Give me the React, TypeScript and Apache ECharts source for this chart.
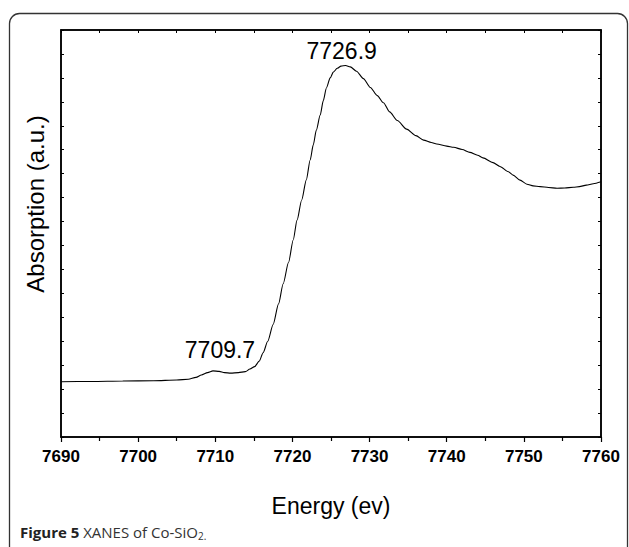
import React, { useEffect, useRef } from "react";
import * as echarts from "echarts";

const energy = [
  7690, 7694, 7698, 7702, 7705, 7706.5, 7707.5, 7708.2, 7709, 7709.7, 7710.5, 7711.2, 7712, 7713,
  7713.9, 7714.5, 7715.1, 7715.7, 7716.2, 7716.8, 7717.5, 7718.2, 7718.8, 7719.5, 7720.1, 7720.6,
  7721.2, 7721.8, 7722.3, 7722.7, 7723.1, 7723.6, 7724.0, 7724.4, 7724.9, 7725.3, 7725.8, 7726.3,
  7726.9, 7727.5, 7728.3, 7729.2, 7730.1, 7731.0, 7731.8, 7732.6, 7733.6, 7734.8, 7736.0, 7737.0,
  7738.0, 7738.7, 7740.0, 7740.9, 7742.0, 7743.0, 7744.0, 7744.7, 7746.0, 7746.9, 7748.0, 7748.6,
  7749.5, 7750.4, 7751.2, 7752.1, 7753.2, 7754.3, 7755.3, 7756.4, 7757.2, 7758.1, 7759.0, 7760,
];
const absorption = [
  0.231, 0.232, 0.234, 0.235, 0.238, 0.241, 0.249, 0.259, 0.269, 0.276, 0.274, 0.269, 0.267, 0.269,
  0.273, 0.284, 0.294, 0.317, 0.352, 0.4, 0.47, 0.556, 0.64, 0.73, 0.823, 0.906,
  0.99, 1.074, 1.157, 1.22, 1.282, 1.345, 1.405, 1.458, 1.5, 1.524, 1.54, 1.549,
  1.552, 1.546, 1.528, 1.497, 1.46, 1.426, 1.396, 1.358, 1.322, 1.286, 1.259, 1.24,
  1.23, 1.224, 1.215, 1.21, 1.201, 1.189, 1.177, 1.166, 1.146, 1.13, 1.108, 1.094,
  1.073, 1.056, 1.049, 1.046, 1.042, 1.039, 1.04, 1.043, 1.046, 1.052, 1.058, 1.066,
];
const peaks = [
  { name: "7726.9", coord: [7726.9, 1.552], offset: [-4, -14] },
  { name: "7709.7", coord: [7709.7, 0.276], offset: [7, -21] },
];

const FONT = "'Liberation Sans', Arial, sans-serif";

export default function App() {
  const ref = useRef<HTMLDivElement>(null);
  useEffect(() => {
    if (!ref.current) return;
    const chart = echarts.init(ref.current, null, { renderer: "svg" });
    const axisLine = { show: true, onZero: false, lineStyle: { color: "#000", width: 1.5 } };
    chart.setOption({
      animation: false,
      backgroundColor: "#fff",
      grid: {
        left: 61,
        right: 28,
        top: 30,
        bottom: 110,
        show: true,
        borderColor: "#000",
        borderWidth: 1.5,
        backgroundColor: "transparent",
      },
      xAxis: [
        {
          type: "value",
          min: 7690,
          max: 7760,
          interval: 10,
          axisLine,
          axisTick: { show: true, inside: false, length: 5, lineStyle: { color: "#000", width: 1.2 } },
          minorTick: { show: true, splitNumber: 2, length: 4, lineStyle: { color: "#000", width: 1.2 } },
          splitLine: { show: false },
          axisLabel: {
            color: "#000",
            fontFamily: FONT,
            fontWeight: "bold",
            fontSize: 17,
            margin: 11,
            formatter: (v: number) => String(v),
          },
          name: "Energy (ev)",
          nameLocation: "middle",
          nameGap: 57,
          nameTextStyle: { color: "#000", fontFamily: FONT, fontSize: 23 },
        },
        {
          type: "value",
          position: "top",
          min: 7690,
          max: 7760,
          interval: 5,
          axisLine,
          axisTick: { show: true, inside: true, length: 3, lineStyle: { color: "#000" } },
          axisLabel: { show: false },
          splitLine: { show: false },
        },
      ],
      yAxis: [
        {
          type: "value",
          min: 0,
          max: 1.7,
          interval: 0.1,
          axisLine,
          axisTick: { show: true, inside: true, length: 3, lineStyle: { color: "#000" } },
          axisLabel: { show: false },
          splitLine: { show: false },
        },
        {
          type: "value",
          position: "right",
          min: 0,
          max: 1.7,
          interval: 0.1,
          axisLine,
          axisTick: { show: true, inside: true, length: 3, lineStyle: { color: "#000" } },
          axisLabel: { show: false },
          splitLine: { show: false },
        },
      ],
      series: [
        {
          type: "line",
          xAxisIndex: 0,
          yAxisIndex: 0,
          data: energy.map((e, i) => [e, absorption[i]]),
          smooth: 0.25,
          smoothMonotone: "x",
          showSymbol: false,
          lineStyle: { color: "#000", width: 1.1 },
          markPoint: {
            symbol: "circle",
            symbolSize: 1,
            itemStyle: { color: "rgba(0,0,0,0)" },
            data: peaks.map((p) => ({
              name: p.name,
              coord: p.coord,
              label: {
                show: true,
                formatter: "{b}",
                position: "inside",
                offset: p.offset,
                color: "#000",
                fontFamily: FONT,
                fontSize: 23,
              },
            })),
          },
        },
      ],
      graphic: [
        {
          type: "rect",
          shape: { x: 9.5, y: 13.5, width: 618, height: 560, r: 10 },
          style: { fill: "none", stroke: "#333", lineWidth: 1.3 },
          silent: true,
        },
        {
          type: "text",
          x: 35,
          y: 204,
          rotation: Math.PI / 2,
          style: {
            text: "Absorption (a.u.)",
            fill: "#000",
            font: `24px ${FONT}`,
            textAlign: "center",
            textVerticalAlign: "middle",
          },
        },
        {
          type: "text",
          x: 20,
          y: 532,
          style: {
            text: "{b|Figure 5} XANES of Co-SiO{s|2}{d|.}",
            fill: "#333",
            font: "15px 'Open Sans', sans-serif",
            textVerticalAlign: "middle",
            rich: {
              b: { fontWeight: "bold", fontFamily: "'Open Sans', sans-serif", fontSize: 15, fill: "#222" },
              s: { fontFamily: "'Open Sans', sans-serif", fontSize: 10, fill: "#333", padding: [8, 0, 0, 0] },
              d: { fontFamily: "'Open Sans', sans-serif", fontSize: 10, fill: "#333", padding: [8, 0, 0, 0] },
            },
          },
        },
      ],
    });
    return () => chart.dispose();
  }, []);
  return (
    <div
      ref={ref}
      style={{ position: "fixed", left: 0, top: 0, width: 629, height: 547 }}
    />
  );
}
